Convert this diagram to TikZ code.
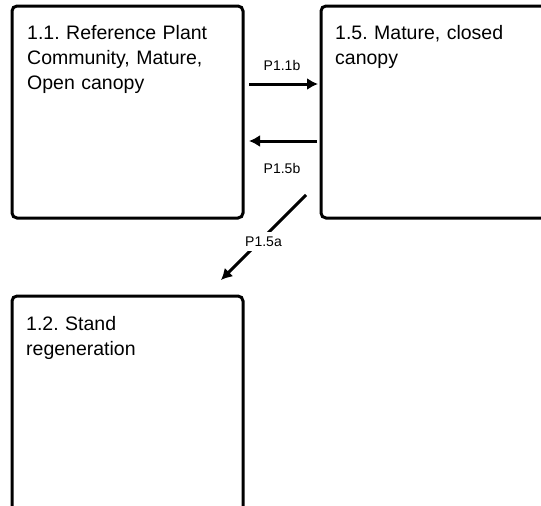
\documentclass[tikz,border=0pt]{standalone}
\usepackage{fontspec}
\setmainfont{Liberation Sans}
\usetikzlibrary{arrows.meta}
\definecolor{ink}{RGB}{0,0,0}
\tikzset{
  card/.style  = {draw=ink, line width=3pt, rounded corners=5pt, outer sep=0pt,
                  anchor=north west, inner sep=0pt},
  h/.style     = {font=\fontsize{19.5}{25}\selectfont, text=ink, align=left,
                  anchor=base west, text width=215pt, inner sep=0pt},
  flow/.style  = {-{Latex[length=11pt,width=12pt]}, draw=ink, line width=3pt},
  plab/.style  = {font=\fontsize{14}{16}\selectfont, text=ink},
}
\frenchspacing

\begin{document}
\begin{tikzpicture}[x=1pt, y=-1pt]
\useasboundingbox (0,0) rectangle (541,506);
\clip (0,0) rectangle (541,506);

% ======================================================= state boxes
\node[card, minimum width=231pt, minimum height=212pt] (ref) at (12,6) {};
\node[h] (reftxt) at (27,39) {1.1. Reference Plant\\Community, Mature,\\Open canopy};

% right box runs past the page edge
\node[card, minimum width=240pt, minimum height=212pt] (mat) at (321,6) {};
\node[h] (mattxt) at (335,39) {1.5. Mature, closed\\canopy};

% lower box runs past the page bottom
\node[card, minimum width=231pt, minimum height=234pt] (stand) at (12,296) {};
\node[h] (standtxt) at (26,330) {1.2. Stand\\regeneration};

% ======================================================= transitions
\draw[flow, shorten <=6pt, shorten >=3pt]
  ([yshift=-78pt]ref.north east) -- ([yshift=-78pt]ref.north east -| mat.west)
  node[plab, midway, yshift=19pt] (p11b) {P1.1b};
\draw[flow, shorten <=4pt, shorten >=6pt]
  ([yshift=-135pt]mat.north west) -- ([yshift=-135pt]mat.north west -| ref.east)
  node[plab, midway, yshift=-27pt] (p15b) {P1.5b};

\coordinate (from5a) at (306,195);
\coordinate (to5a) at (221,280);
\draw[flow] (from5a) -- (to5a)
  node[plab, pos=0.5, yshift=-4pt, fill=white, inner sep=5pt] (p15a) {P1.5a};

\end{tikzpicture}
\end{document}
